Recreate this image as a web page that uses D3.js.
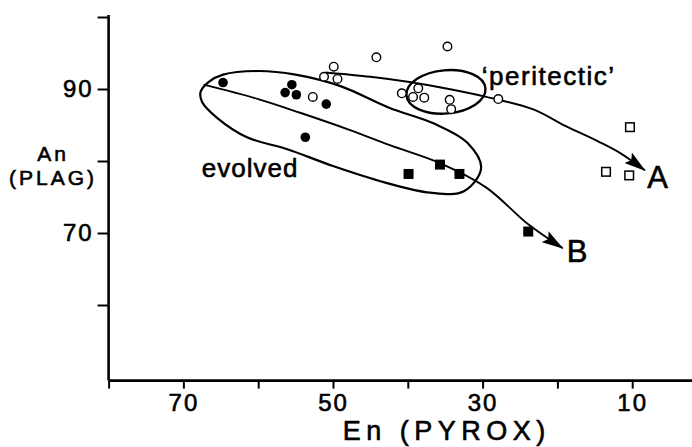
<!DOCTYPE html>
<html>
<head>
<meta charset="utf-8">
<script src="https://cdn.jsdelivr.net/npm/d3@7"></script>
<style>
  html, body { margin: 0; padding: 0; background: #fff; }
  svg { display: block; }
  text { font-family: "Liberation Sans", Arial, Helvetica, sans-serif; fill: #000; stroke: #000; stroke-width: 0.6px; }
</style>
</head>
<body>
<svg id="chart" width="692" height="447"></svg>
<script>
// En content of pyroxene (x) against An content of coexisting plagioclase (y)

// axis ticks
const xTicks = [80, 70, 60, 50, 40, 30, 20, 10, 0];
const xTickLabels = [70, 50, 30, 10];
const yTicks = [60, 70, 80, 90, 100];
const yTickLabels = [70, 90];

// samples: [En, An]
const filledCircles = [[64.7, 90.9], [55.5, 90.6], [56.4, 89.5], [54.9, 89.2], [50.9, 87.9], [53.7, 83.3]];
const openCircles = [[52.7, 88.9], [49.9, 93.1], [51.2, 91.7], [49.4, 91.4], [44.2, 94.4], [34.7, 95.9],
                     [40.8, 89.4], [38.6, 90.1], [39.3, 88.9], [37.8, 88.8], [34.4, 88.5], [34.2, 87.2],
                     [27.9, 88.6]];
const filledSquares = [[39.9, 78.2], [35.7, 79.5], [33.1, 78.2], [23.9, 70.2]];
const openSquares = [[10.3, 84.7], [13.5, 78.5], [10.4, 78.0]];

// crystallisation trends: [En, An]
const trendA = [[51.0, 92.3], [45.0, 91.7], [40.0, 91.0], [34.5, 90.0], [29.5, 88.9], [23.3, 87.2],
                [18.8, 84.8], [14.5, 82.7], [11.6, 81.1], [8.3, 78.7]];
const trendB = [[67.3, 90.6], [60.0, 88.6], [54.4, 86.7], [48.0, 84.4], [42.4, 82.2], [35.7, 79.7],
                [29.5, 76.3], [23.9, 71.2], [19.3, 67.9]];

// compositional fields: [En, An]
const evolvedField = [[67.7, 89.6], [66.6, 91.0], [64.7, 92.0], [60.0, 92.5], [55.0, 92.0], [49.0, 90.4],
                      [42.5, 87.4], [36.5, 85.2], [32.0, 82.5], [30.2, 79.0], [32.5, 75.8], [37.0, 75.6],
                      [43.0, 77.0], [50.0, 79.3], [56.0, 81.6], [61.5, 83.3], [65.5, 86.0], [67.5, 88.2]];
const peritecticCentre = [34.9, 89.6];
const peritecticRadii = [5.3, 3.0];

// text annotations anchored in data units: [text, En, An, font size, letter spacing]
const annotations = [["evolved", 67.55, 77.8, 26, 1], ["\u2018peritectic\u2019", 30.1, 90.6, 26, 1.5],
                     ["A", 8.0, 76.3, 31, 0], ["B", 18.75, 66.0, 31, 0]];

const svg = d3.select("#chart");

const x = d3.scaleLinear().domain([80, 0]).range([108.6, 707]);
const y = d3.scaleLinear().domain([49.5, 100]).range([380.6, 17]);

// arrowhead
svg.append("defs").append("marker")
  .attr("id", "arrow")
  .attr("viewBox", "0 0 22 13")
  .attr("refX", 21).attr("refY", 6.5)
  .attr("markerWidth", 22).attr("markerHeight", 13)
  .attr("markerUnits", "userSpaceOnUse")
  .attr("orient", "auto")
  .append("path")
  .attr("d", "M0,0 L22,6.5 L0,13 L4,6.5 Z")
  .attr("fill", "#000");

// axes
const xAxis = d3.axisBottom(x).tickValues(xTicks).tickSize(8)
  .tickFormat(d => xTickLabels.includes(d) ? d : "");
const gx = svg.append("g").attr("transform", `translate(0,${y(49.5)})`).call(xAxis);
gx.select(".domain").attr("d", `M${x(80)},0H${x(0)}`).attr("stroke-width", 2.6);
gx.selectAll(".tick line").attr("stroke-width", 2);
gx.selectAll(".tick text")
  .attr("font-size", 24).attr("letter-spacing", 2).attr("font-family", null)
  .attr("dy", "0.8em");

const yAxis = d3.axisLeft(y).tickValues(yTicks).tickSize(11)
  .tickFormat(d => yTickLabels.includes(d) ? d : "");
const gy = svg.append("g").attr("transform", `translate(${x(80)},0)`).call(yAxis);
gy.select(".domain").attr("d", `M0,${y(100) - 2}V${y(49.5)}`).attr("stroke-width", 2.6);
gy.selectAll(".tick line").attr("stroke-width", 2);
gy.selectAll(".tick text")
  .attr("font-size", 24).attr("letter-spacing", 2).attr("font-family", null)
  .attr("x", -15);

// axis titles
svg.append("text").attr("x", x(48.7)).attr("y", 440)
  .attr("font-size", 27).attr("letter-spacing", 5.5)
  .text("En (PYROX)");
svg.append("text").attr("x", 53).attr("y", 161)
  .attr("text-anchor", "middle").attr("font-size", 21).attr("letter-spacing", 3)
  .text("An");
svg.append("text").attr("x", 53).attr("y", 185)
  .attr("text-anchor", "middle").attr("font-size", 21).attr("letter-spacing", 3)
  .text("(PLAG)");

// fields
svg.append("path")
  .attr("d", d3.line().x(d => x(d[0])).y(d => y(d[1])).curve(d3.curveCatmullRomClosed.alpha(0.5))(evolvedField))
  .attr("fill", "none").attr("stroke", "#000").attr("stroke-width", 2.2);

svg.append("ellipse")
  .attr("cx", x(peritecticCentre[0])).attr("cy", y(peritecticCentre[1]))
  .attr("rx", x(peritecticCentre[0] - peritecticRadii[0]) - x(peritecticCentre[0]))
  .attr("ry", y(peritecticCentre[1] - peritecticRadii[1]) - y(peritecticCentre[1]))
  .attr("transform", `rotate(-5,${x(peritecticCentre[0])},${y(peritecticCentre[1])})`)
  .attr("fill", "none").attr("stroke", "#000").attr("stroke-width", 2.4);

// trend arrows
const trendLine = d3.line().x(d => x(d[0])).y(d => y(d[1])).curve(d3.curveCatmullRom.alpha(0.5));
[trendA, trendB].forEach(t => {
  svg.append("path").attr("d", trendLine(t))
    .attr("fill", "none").attr("stroke", "#000").attr("stroke-width", 1.9)
    .attr("marker-end", "url(#arrow)");
});

// samples
svg.append("g").selectAll("circle").data(openCircles).join("circle")
  .attr("cx", d => x(d[0])).attr("cy", d => y(d[1])).attr("r", 4.3)
  .attr("fill", "#fff").attr("stroke", "#000").attr("stroke-width", 1.4);
svg.append("g").selectAll("circle").data(filledCircles).join("circle")
  .attr("cx", d => x(d[0])).attr("cy", d => y(d[1])).attr("r", 4.8)
  .attr("fill", "#000");
svg.append("g").selectAll("rect").data(filledSquares).join("rect")
  .attr("x", d => x(d[0]) - 5).attr("y", d => y(d[1]) - 5).attr("width", 10).attr("height", 10)
  .attr("fill", "#000");
svg.append("g").selectAll("rect").data(openSquares).join("rect")
  .attr("x", d => x(d[0]) - 4.3).attr("y", d => y(d[1]) - 4.3).attr("width", 8.6).attr("height", 8.6)
  .attr("fill", "#fff").attr("stroke", "#000").attr("stroke-width", 1.5);

// annotations
svg.append("g").selectAll("text").data(annotations).join("text")
  .attr("x", d => x(d[1])).attr("y", d => y(d[2]))
  .attr("font-size", d => d[3]).attr("letter-spacing", d => d[4])
  .text(d => d[0]);
</script>
</body>
</html>
